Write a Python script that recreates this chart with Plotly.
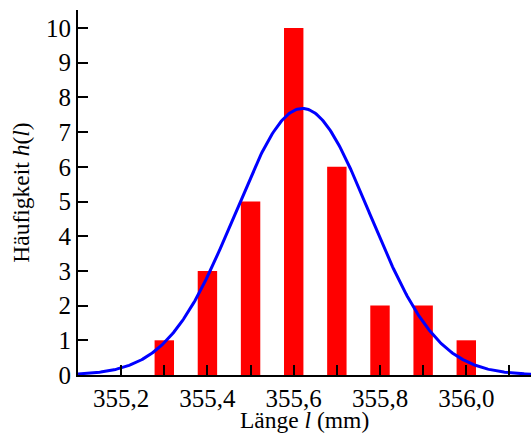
import numpy as np
import plotly.graph_objects as go

lengths = [355.3, 355.4, 355.5, 355.6, 355.7, 355.8, 355.9, 356.0]
counts = [1, 3, 5, 10, 6, 2, 2, 1]
bin_width = 0.1
x_tickvals = [355.2, 355.3, 355.4, 355.5, 355.6, 355.7, 355.8, 355.9, 356.0, 356.1]
x_ticktext = ["355,2", "", "355,4", "", "355,6", "", "355,8", "", "356,0", ""]
y_tickvals = list(range(0, 11))

# Gaussian fitted from the histogram data
L = np.array(lengths)
C = np.array(counts)
N = C.sum()
mean = (L * C).sum() / N
sigma = np.sqrt(((L - mean) ** 2 * C).sum() / N)
xs = np.linspace(355.1, 356.15, 400)
ys = N * bin_width / (sigma * np.sqrt(2 * np.pi)) * np.exp(-0.5 * ((xs - mean) / sigma) ** 2)

font = "Liberation Serif, Times New Roman, serif"
fig = go.Figure()
fig.add_trace(go.Bar(x=lengths, y=counts, width=0.045, marker=dict(color="#ff0000", line=dict(width=0)), showlegend=False, hoverinfo="skip"))
fig.add_trace(go.Scatter(x=xs, y=ys, mode="lines", line=dict(color="#0000ff", width=3), showlegend=False, hoverinfo="skip"))

fig.update_layout(
    width=531, height=435,
    margin=dict(l=78, r=0, t=10, b=60),
    paper_bgcolor="white", plot_bgcolor="white",
    separators=",.",
    font=dict(family=font, size=25, color="black"),
)
fig.add_annotation(
    text="Länge <i>l</i> (mm)", xref="paper", yref="paper", x=0.5, y=-0.122,
    xanchor="center", yanchor="middle", showarrow=False, font=dict(size=23.5),
)
fig.update_xaxes(
    range=[355.1, 356.15], tickvals=x_tickvals, ticktext=x_ticktext,
    ticks="inside", ticklen=10, tickwidth=1.5, tickcolor="black",
    showline=True, linecolor="black", linewidth=2, showgrid=False, zeroline=False,
    tickfont=dict(size=25), automargin=False,
)
fig.update_yaxes(
    range=[0, 10.52], tickvals=y_tickvals,
    ticks="inside", ticklen=10, tickwidth=1.5, tickcolor="black",
    showline=True, linecolor="black", linewidth=2, showgrid=False, zeroline=False,
    tickfont=dict(size=25), automargin=False,
    title=dict(text="Häufigkeit <i>h</i>(<i>l</i>)", font=dict(size=23.5), standoff=10),
)
fig.write_html("out.html", config={"displayModeBar": False},
               post_script="document.body.style.margin='0';document.body.style.overflow='hidden';")
